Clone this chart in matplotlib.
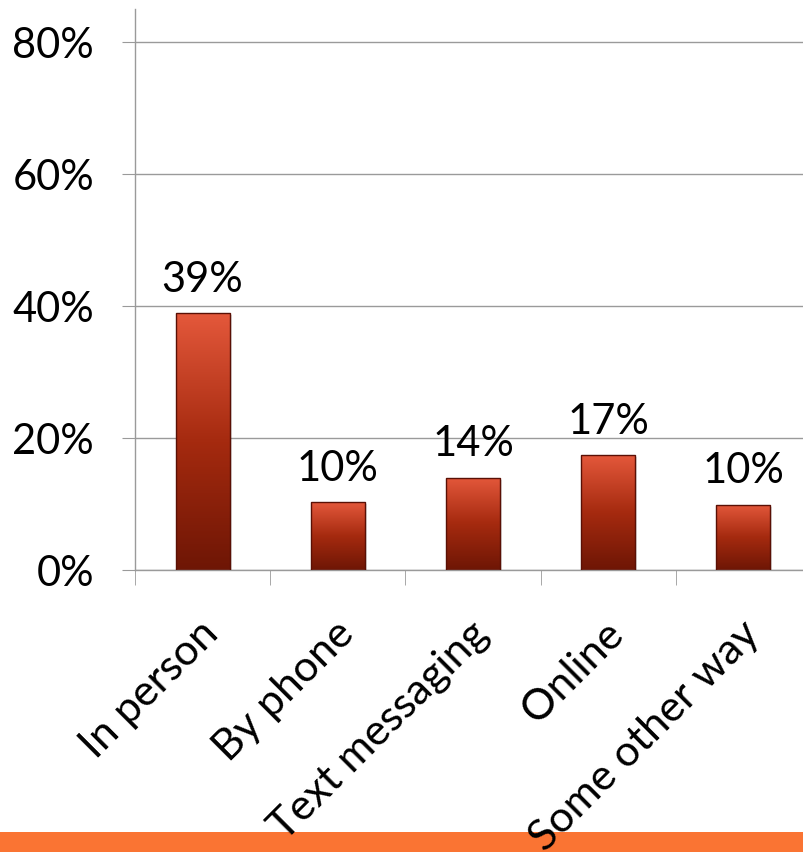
import numpy as np
import matplotlib
matplotlib.use('Agg')
from matplotlib import pyplot as plt
from matplotlib.colors import LinearSegmentedColormap
from matplotlib.patches import Rectangle
import matplotlib.transforms as mtransforms

categories = ['In person', 'By phone', 'Text messaging', 'Online', 'Some other way']
values = [38.9, 10.3, 14.0, 17.4, 9.9]
yticks = [0, 20, 40, 60, 80]

plt.rcParams['font.family'] = ['Lato', 'DejaVu Sans']

W, H = 804, 853
fig = plt.figure(figsize=(W / 100, H / 100), dpi=100)
fig.patch.set_facecolor('white')

# axes box in pixels: left spine at 135, zero line at 571, top at 10
left, right, bottom, top = 135, 811, 571, 10
ax = fig.add_axes([left / W, (H - bottom) / H, (right - left) / W, (bottom - top) / H])
ax.set_xlim(-0.5, len(categories) - 0.5)
ax.set_ylim(0, 85)
ax.set_facecolor('none')

grid_col = '#9a9a9a'
for s in ['top', 'right']:
    ax.spines[s].set_visible(False)
ax.spines['left'].set_color(grid_col)
ax.spines['bottom'].set_color(grid_col)
ax.spines['left'].set_linewidth(1)
ax.spines['bottom'].set_linewidth(1)

ax.set_yticks(yticks)
ax.set_yticklabels(['%d%%' % v for v in yticks])
ax.yaxis.grid(True, color=grid_col, linewidth=1)
ax.set_axisbelow(True)
ax.tick_params(axis='y', length=9.5, color=grid_col, pad=20, labelsize=30)

x = np.arange(len(categories))
ax.set_xticks(x)
ax.set_xticklabels([])
ax.tick_params(axis='x', which='major', length=0)
ax.set_xticks(np.arange(len(categories) + 1) - 0.5, minor=True)
ax.tick_params(axis='x', which='minor', length=11, color=grid_col)

cmap = LinearSegmentedColormap.from_list('bar', ['#6e1605', '#a52a0f', '#e4583b'])
grad = np.linspace(0, 1, 256).reshape(-1, 1)

# soft shadow behind the bars
shadow = mtransforms.ScaledTranslation(2 / 100, -2 / 100, fig.dpi_scale_trans)
ax.bar(x, values, width=0.4, color='#000000', alpha=0.12, zorder=1.5,
       transform=ax.transData + shadow)

bars = ax.bar(x, values, width=0.4, color='none', edgecolor='#5a1005', linewidth=1, zorder=3)
for b in bars:
    x0, y0 = b.get_x(), b.get_y()
    w, h = b.get_width(), b.get_height()
    im = ax.imshow(grad, cmap=cmap, aspect='auto', origin='lower',
                   extent=[x0, x0 + w, y0, y0 + h], zorder=2)
    im.set_clip_path(b)

for xi, v in zip(x, values):
    ax.annotate('%.0f%%' % v, (xi, v), xytext=(0, 16), textcoords='offset points',
                ha='center', va='baseline', fontsize=30)

offset = mtransforms.ScaledTranslation(-4 / 100, -43 / 100, fig.dpi_scale_trans)
for xi, c in zip(x, categories):
    ax.text(xi, 0, c, transform=ax.get_xaxis_transform() + offset,
            rotation=45, rotation_mode='anchor', ha='right', va='top', fontsize=31,
            clip_on=False, zorder=5)

fig.add_artist(Rectangle((0, 0), 1, 20 / H, transform=fig.transFigure,
                         facecolor='#fa7433', edgecolor='none', zorder=-1))

ax.set_xlim(-0.5, len(categories) - 0.5)
fig.savefig('out.png', dpi=100)
